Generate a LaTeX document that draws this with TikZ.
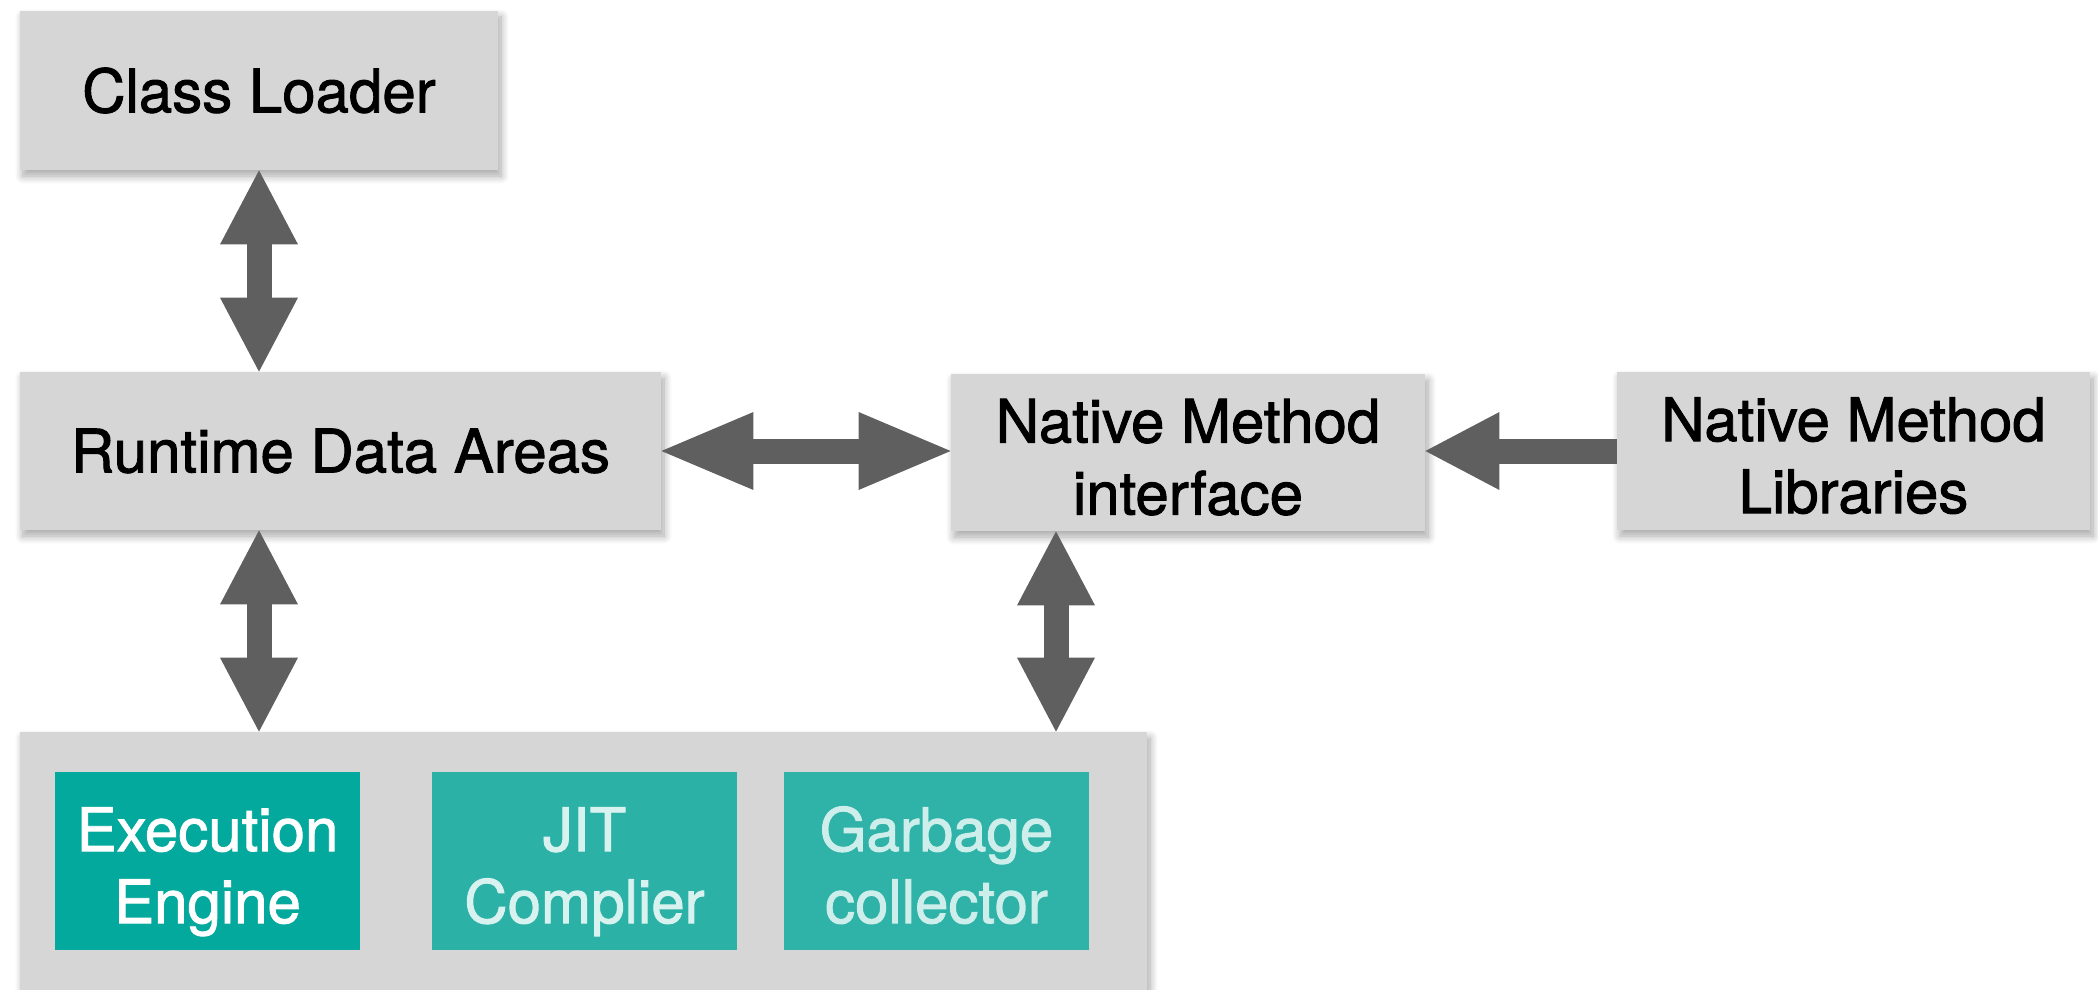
\documentclass[tikz,border=0pt]{standalone}
\usepackage{fontspec}
\setmainfont{TeX Gyre Heros}[FakeBold=1.5]
\usetikzlibrary{arrows.meta,shadows.blur}
\definecolor{boxgray}{HTML}{D6D6D6}
\definecolor{arrowgray}{HTML}{5F5F5F}
\definecolor{tealA}{HTML}{04A99D}
\definecolor{tealB}{HTML}{2CB1A6}
\definecolor{tealC}{HTML}{2FB3A8}
\definecolor{paleB}{HTML}{D7F2EF}
\definecolor{paleC}{HTML}{CDEEEA}
\tikzset{
  bigtip/.tip={Triangle[length=37pt,width=39pt,line width=0pt]},
  longtip/.tip={Triangle[length=46pt,width=39pt,line width=0pt]}}
\begin{document}
\begin{tikzpicture}[x=0.5pt,y=-0.5pt,
  labelfont/.style={font=\fontsize{30pt}{36pt}\selectfont},
  twoline/.style={text height=62.1pt, text depth=0pt},
  graybox/.style={fill=boxgray, draw=none, inner sep=0pt, align=center, labelfont,
    blur shadow={shadow xshift=1.5pt, shadow yshift=-3pt, shadow blur radius=4pt,
      shadow blur steps=12, shadow opacity=35}},
  unitbox/.style={draw=none, inner sep=0pt, align=center, labelfont, twoline,
    minimum width=152.5pt, minimum height=89pt},
  link/.style={draw=arrowgray, line width=12.5pt}]
\useasboundingbox (0,0) rectangle (2098,990);
\clip (0,0) rectangle (2098,990);

% main blocks
\node[graybox, minimum width=239pt, minimum height=79.5pt] (cl) at (259,90.5) {Class Loader};
\node[graybox, minimum width=320.5pt, minimum height=79pt] (rda) at (340.5,451) {Runtime Data Areas};
\node[graybox, twoline, minimum width=237pt, minimum height=78.5pt] (nmi) at (1188,452.5) {Native Method\\interface};
\node[graybox, twoline, minimum width=236.5pt, minimum height=79pt] (nml) at (1853.5,451) {Native Method\\Libraries};
\node[graybox, minimum width=563.5pt, minimum height=134pt] (engine) at (583.5,866) {};

% execution engine parts
\node[unitbox, fill=tealA, text=white] (exec) at (207.5,861) {Execution\\Engine};
\node[unitbox, fill=tealB, text=paleB] (jit) at (584.5,861) {JIT\\Complier};
\node[unitbox, fill=tealC, text=paleC] (gc) at (936.5,861) {Garbage\\collector};

% connectors
\coordinate (nmiport) at ([xshift=-66pt]nmi.south);
\draw[link, bigtip-bigtip] (cl.south) -- (cl.south |- rda.north);
\draw[link, bigtip-bigtip] (cl.south |- rda.south) -- (cl.south |- engine.north);
\draw[link, longtip-longtip] (rda.east) -- (rda.east -| nmi.west);
\draw[link, -bigtip] (nml.west) -- (nml.west -| nmi.east);
\draw[link, bigtip-bigtip] (nmiport) -- (nmiport |- engine.north);
\end{tikzpicture}
\end{document}
